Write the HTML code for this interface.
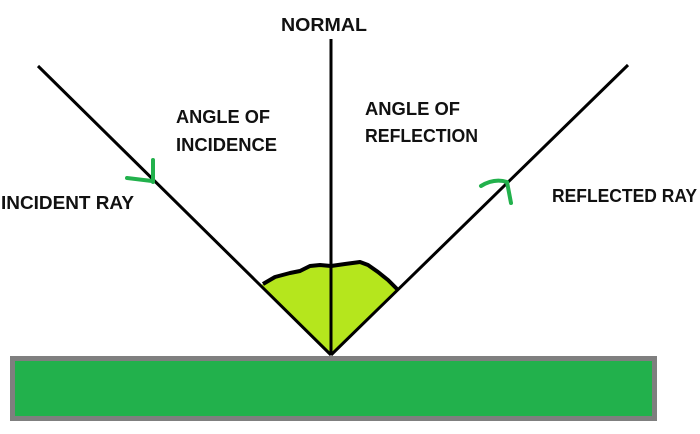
<!DOCTYPE html>
<html>
<head>
<meta charset="utf-8">
<style>
  html, body { margin: 0; padding: 0; background: #ffffff; }
  body { width: 700px; height: 434px; overflow: hidden; }
  svg { display: block; }
  text { font-family: "Liberation Sans", "DejaVu Sans", sans-serif; font-weight: bold; font-size: 18px; fill: #111111; }
</style>
</head>
<body>
<svg width="700" height="434" viewBox="0 0 700 434" xmlns="http://www.w3.org/2000/svg">
  <rect x="0" y="0" width="700" height="434" fill="#ffffff"/>

  <!-- mirror surface -->
  <rect x="10" y="356" width="647" height="65" fill="#7f7f7f"/>
  <rect x="15" y="361" width="637" height="55" fill="#22b14c"/>

  <!-- angle fill -->
  <path d="M331 355 L261 285 L265 283 L275 277 L290 273 L300 271 L310 266 L320 265 L331 266 L345 264 L360 262 L368 265 L378 272 L388 280 L397 289 Z" fill="#b5e61d"/>
  <path d="M263 284 L275 277 L290 273 L300 271 L310 266 L320 265 L331 266 L345 264 L360 262 L368 265 L378 272 L388 280 L397 289" fill="none" stroke="#000" stroke-width="4" stroke-linejoin="round"/>

  <!-- rays -->
  <line x1="38" y1="66" x2="331" y2="355" stroke="#000" stroke-width="3"/>
  <line x1="628" y1="65" x2="331" y2="355" stroke="#000" stroke-width="3"/>
  <!-- normal -->
  <line x1="331" y1="39" x2="331" y2="355" stroke="#000" stroke-width="3"/>

  <!-- green arrow marks -->
  <path d="M127 178 L152 181 M153 160 L153 182" fill="none" stroke="#22b14c" stroke-width="4" stroke-linecap="round"/>
  <path d="M481 186 Q494 178 507 182 L511 203" fill="none" stroke="#22b14c" stroke-width="4" stroke-linecap="round" stroke-linejoin="round"/>

  <!-- labels -->
  <text x="281" y="31" textLength="86" lengthAdjust="spacingAndGlyphs">NORMAL</text>
  <text x="176" y="123" textLength="94" lengthAdjust="spacingAndGlyphs">ANGLE OF</text>
  <text x="176" y="151" textLength="101" lengthAdjust="spacingAndGlyphs">INCIDENCE</text>
  <text x="1" y="209" textLength="133" lengthAdjust="spacingAndGlyphs">INCIDENT RAY</text>
  <text x="365" y="115" textLength="95" lengthAdjust="spacingAndGlyphs">ANGLE OF</text>
  <text x="365" y="142" textLength="113" lengthAdjust="spacingAndGlyphs">REFLECTION</text>
  <text x="552" y="202" textLength="145" lengthAdjust="spacingAndGlyphs">REFLECTED RAY</text>
</svg>
</body>
</html>
